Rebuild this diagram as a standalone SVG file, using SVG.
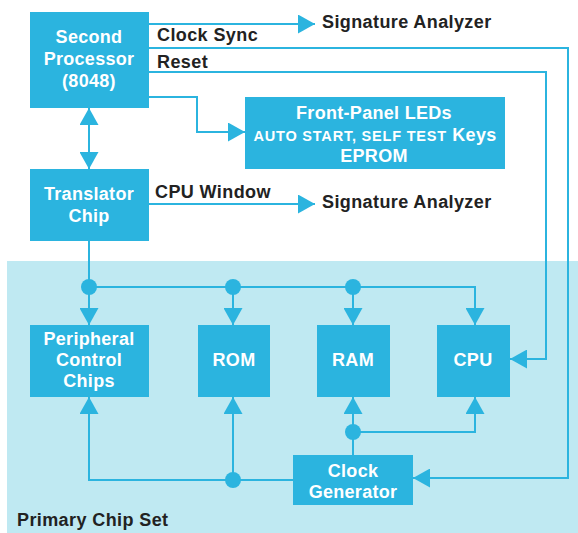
<svg xmlns="http://www.w3.org/2000/svg" width="578" height="533" viewBox="0 0 578 533">
<style>
.box{fill:#2BB4DF}
.bt{fill:#fff;font-family:"Liberation Sans",Arial,sans-serif;font-weight:bold;font-size:18px;text-anchor:middle;letter-spacing:0.3px}
.lt{fill:#222;font-family:"Liberation Sans",Arial,sans-serif;font-weight:bold;font-size:18px;letter-spacing:0.4px}
.ln{fill:none;stroke:#2BB4DF;stroke-width:2}
.dot{fill:#2BB4DF}
</style>
<defs>
<marker id="ah" viewBox="0 0 17 19" refX="17" refY="9.5" markerWidth="17" markerHeight="19" markerUnits="userSpaceOnUse" orient="auto">
<path d="M0,0 L17,9.5 L0,19 Z" fill="#2BB4DF"/>
</marker>
</defs>
<rect width="578" height="533" fill="#fff"/>
<rect x="7" y="261" width="571" height="272" fill="#BFE9F2"/>
<g id="connectors">
<path class="ln" d="M149,24 H315" marker-end="url(#ah)"/>
<path class="ln" d="M149,48 H568 V478 H413" marker-end="url(#ah)"/>
<path class="ln" d="M149,72 H546 V359 H510" marker-end="url(#ah)"/>
<path class="ln" d="M149,97 H197 V132 H245" marker-end="url(#ah)"/>
<path class="ln" d="M149,204 H315" marker-end="url(#ah)"/>
<path class="ln" d="M89,139 V108" marker-end="url(#ah)"/>
<path class="ln" d="M89,138 V169" marker-end="url(#ah)"/>
<path class="ln" d="M89,241 V325" marker-end="url(#ah)"/>
<path class="ln" d="M89,287 H475 V325" marker-end="url(#ah)"/>
<path class="ln" d="M233,287 V325" marker-end="url(#ah)"/>
<path class="ln" d="M353,287 V325" marker-end="url(#ah)"/>
<path class="ln" d="M293,480 H89 V397" marker-end="url(#ah)"/>
<path class="ln" d="M233,480 V397" marker-end="url(#ah)"/>
<path class="ln" d="M353,455 V397" marker-end="url(#ah)"/>
<path class="ln" d="M353,432 H475 V397" marker-end="url(#ah)"/>
<circle class="dot" cx="89" cy="287" r="8"/>
<circle class="dot" cx="233" cy="287" r="8"/>
<circle class="dot" cx="353" cy="287" r="8"/>
<circle class="dot" cx="233" cy="480" r="8"/>
<circle class="dot" cx="353" cy="432" r="8"/>
</g>
<g id="labels">
<text class="lt" x="157" y="41">Clock Sync</text>
<text class="lt" x="157" y="68">Reset</text>
<text class="lt" x="155" y="198">CPU Window</text>
<text class="lt" x="322" y="28">Signature Analyzer</text>
<text class="lt" x="322" y="208">Signature Analyzer</text>
<text class="lt" x="17" y="526">Primary Chip Set</text>
</g>
<g id="second-processor">
<rect class="box" x="30" y="12" width="119" height="96"/>
<text class="bt" x="89" y="43">Second</text>
<text class="bt" x="89" y="65">Processor</text>
<text class="bt" x="89" y="87">(8048)</text>
</g>
<g id="front-panel">
<rect class="box" x="245" y="97" width="260" height="72"/>
<text class="bt" x="374" y="119">Front-Panel LEDs</text>
<text class="bt" x="375" y="141"><tspan font-size="14.5" letter-spacing="0.8px">AUTO START, SELF TEST</tspan> Keys</text>
<text class="bt" x="374" y="162">EPROM</text>
</g>
<g id="translator">
<rect class="box" x="30" y="169" width="119" height="72"/>
<text class="bt" x="89" y="200">Translator</text>
<text class="bt" x="89" y="222">Chip</text>
</g>
<g id="peripheral">
<rect class="box" x="30" y="325" width="119" height="72"/>
<text class="bt" x="89" y="345">Peripheral</text>
<text class="bt" x="89" y="366">Control</text>
<text class="bt" x="89" y="387">Chips</text>
</g>
<g id="rom">
<rect class="box" x="198" y="325" width="72" height="72"/>
<text class="bt" x="234" y="366">ROM</text>
</g>
<g id="ram">
<rect class="box" x="317" y="325" width="73" height="72"/>
<text class="bt" x="353" y="366">RAM</text>
</g>
<g id="cpu">
<rect class="box" x="437" y="325" width="73" height="72"/>
<text class="bt" x="473" y="366">CPU</text>
</g>
<g id="clock-generator">
<rect class="box" x="293" y="455" width="120" height="50"/>
<text class="bt" x="353" y="477">Clock</text>
<text class="bt" x="353" y="498">Generator</text>
</g>
</svg>
